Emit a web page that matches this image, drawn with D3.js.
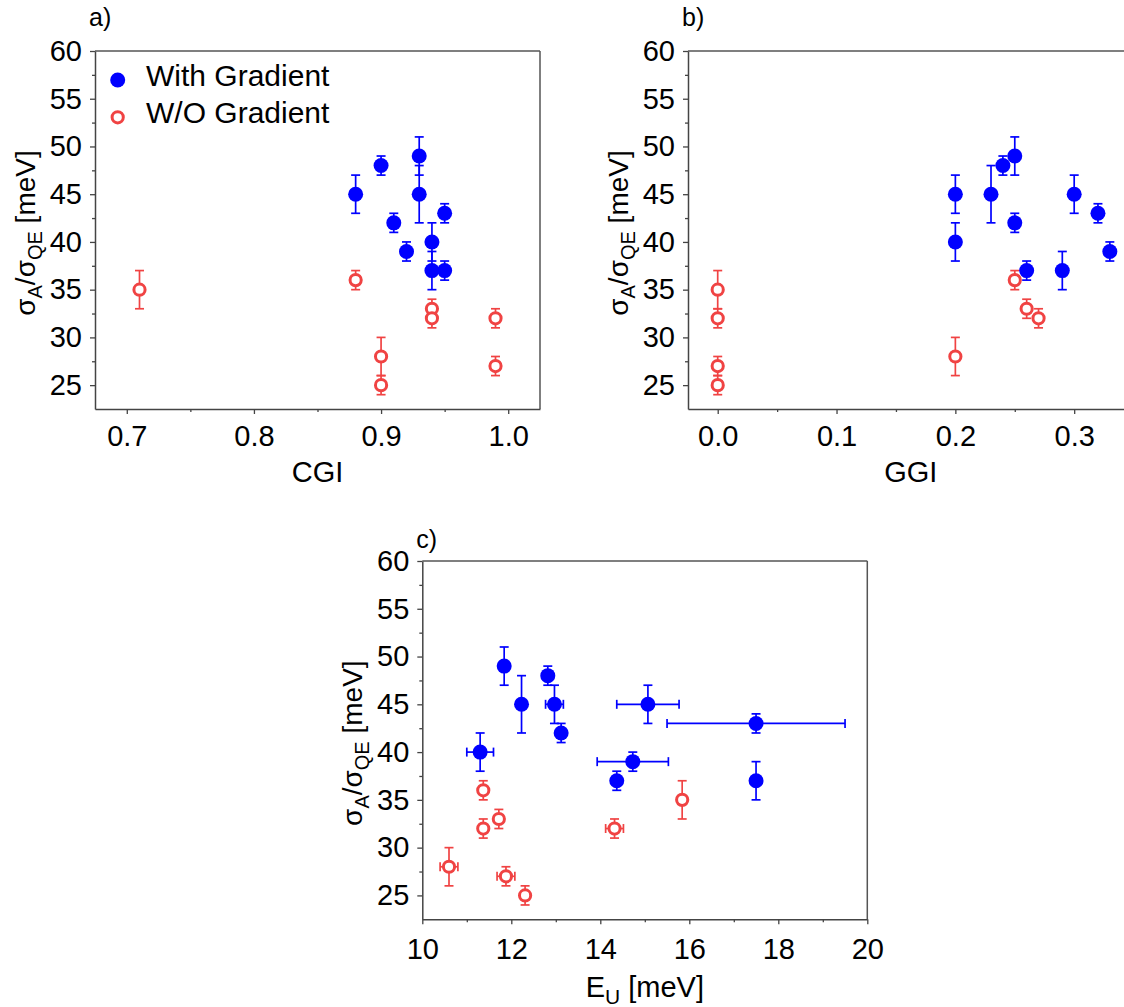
<!DOCTYPE html>
<html><head><meta charset="utf-8">
<script src="https://cdn.jsdelivr.net/npm/d3@7"></script>
<style>
body{margin:0;background:#fff}
svg{display:block}
text{font-family:"Liberation Sans",Arial,Helvetica,sans-serif;fill:#000}
</style>
</head><body>
<svg id="chart" width="1124" height="1007"></svg>
<script>
// ---------- data ----------
const yTickValues = [25, 30, 35, 40, 45, 50, 55, 60];
const yMinorValues = [27.5, 32.5, 37.5, 42.5, 47.5, 52.5, 57.5];
const seriesNames = ["With Gradient", "W/O Gradient"];

// Panel a) CGI
const cgiTicks = [0.7, 0.8, 0.9, 1.0];
const cgiMinor = [0.75, 0.85, 0.95];
const cgiWithX = [0.88, 0.90, 0.93, 0.93, 0.91, 0.92, 0.94, 0.94, 0.95, 0.95];
const cgiWithY = [45, 48, 49, 45, 42, 39, 40, 37, 43, 37];
const cgiWithYErr = [2, 1, 2, 3, 1, 1, 2, 2, 1, 1];
const cgiWoX = [0.71, 0.88, 0.90, 0.90, 0.94, 0.94, 0.99, 0.99];
const cgiWoY = [35, 36, 28, 25, 33, 32, 32, 27];
const cgiWoYErr = [2, 1, 2, 1, 1, 1, 1, 1];

// Panel b) GGI
const ggiTicks = [0.0, 0.1, 0.2, 0.3];
const ggiMinor = [0.05, 0.15, 0.25];
const ggiWithX = [0.20, 0.20, 0.23, 0.24, 0.25, 0.25, 0.26, 0.29, 0.30, 0.32, 0.33];
const ggiWithY = [45, 40, 45, 48, 49, 42, 37, 37, 45, 43, 39];
const ggiWithYErr = [2, 2, 3, 1, 2, 1, 1, 2, 2, 1, 1];
const ggiWoX = [0.0, 0.0, 0.0, 0.0, 0.20, 0.25, 0.26, 0.27];
const ggiWoY = [35, 32, 27, 25, 28, 36, 33, 32];
const ggiWoYErr = [2, 1, 1, 1, 2, 1, 1, 1];

// Panel c) Urbach energy
const euTicks = [10, 12, 14, 16, 18, 20];
const euMinor = [11, 13, 15, 17, 19];
const euWithX = [11.30, 11.84, 12.23, 12.82, 12.97, 13.12, 15.07, 17.50, 14.73, 14.37, 17.50];
const euWithXErr = [0.3, 0, 0, 0, 0.2, 0, 0.7, 2.0, 0.8, 0, 0];
const euWithY = [40, 49, 45, 48, 45, 42, 45, 43, 39, 37, 37];
const euWithYErr = [2, 2, 3, 1, 2, 1, 2, 1, 1, 1, 2];
const euWoX = [11.37, 11.37, 11.72, 10.60, 11.88, 12.31, 14.32, 15.84];
const euWoXErr = [0, 0, 0, 0.2, 0.2, 0, 0.2, 0];
const euWoY = [36, 32, 33, 28, 27, 25, 32, 35];
const euWoYErr = [1, 1, 1, 2, 1, 1, 1, 2];

// ---------- drawing ----------
const BLUE = "#0000ff", RED = "#f04343", AXIS = "#444";
const svg = d3.select("#chart");

function zip(xs, ys, yerr, xerr) {
  return xs.map((x, i) => ({x, y: ys[i], ye: yerr[i], xe: xerr ? xerr[i] : 0}));
}

function panel(cfg) {
  const g = svg.append("g");
  const x = d3.scaleLinear().domain(cfg.xDomain).range([cfg.left, cfg.right]);
  const y = d3.scaleLinear().domain([22.5, 60]).range([cfg.bottom, cfg.top]);

  // frame (top & right)
  g.append("line").attr("x1", cfg.left).attr("x2", cfg.right).attr("y1", cfg.top).attr("y2", cfg.top)
    .attr("stroke", "#555").attr("stroke-width", 1.5);
  g.append("line").attr("x1", cfg.right).attr("x2", cfg.right).attr("y1", cfg.top).attr("y2", cfg.bottom)
    .attr("stroke", "#555").attr("stroke-width", 1.5);

  // x axis
  g.append("g").attr("transform", `translate(0,${cfg.bottom})`)
    .call(d3.axisBottom(x).tickValues(cfg.xTicks).tickSize(5).tickSizeOuter(0).tickPadding(cfg.xPad).tickFormat(cfg.xFmt));
  g.append("g").attr("transform", `translate(0,${cfg.bottom})`)
    .call(d3.axisBottom(x).tickValues(cfg.xMinor).tickSize(3).tickSizeOuter(0).tickFormat(""))
    .select(".domain").remove();
  // y axis
  g.append("g").attr("transform", `translate(${cfg.left},0)`)
    .call(d3.axisLeft(y).tickValues(yTickValues).tickSize(5).tickSizeOuter(0).tickPadding(8).tickFormat(d3.format("d")));
  g.append("g").attr("transform", `translate(${cfg.left},0)`)
    .call(d3.axisLeft(y).tickValues(yMinorValues).tickSize(3).tickSizeOuter(0).tickFormat(""))
    .select(".domain").remove();
  g.selectAll(".domain").attr("stroke", AXIS).attr("stroke-width", 1.5);
  g.selectAll(".tick line").attr("stroke", AXIS).attr("stroke-width", 1.3);
  g.selectAll(".tick text").attr("font-size", 29).attr("fill", "#000")
    .attr("font-family", '"Liberation Sans",Arial,sans-serif');

  // y title
  const yt = g.append("text")
    .attr("transform", `translate(${cfg.left - 60},${(cfg.top + cfg.bottom) / 2 + 3}) rotate(-90)`)
    .attr("text-anchor", "middle").attr("font-size", 28);
  yt.append("tspan").text("σ");
  yt.append("tspan").text("A").attr("font-size", 20).attr("dy", 7);
  yt.append("tspan").text("/σ").attr("dy", -7);
  yt.append("tspan").text("QE").attr("font-size", 20).attr("dy", 7);
  yt.append("tspan").text(" [meV]").attr("dy", -7);

  // x title
  const xt = g.append("text").attr("x", (cfg.left + cfg.right) / 2)
    .attr("y", cfg.bottom + cfg.titleOff).attr("text-anchor", "middle").attr("font-size", 29);
  if (cfg.xSub) {
    xt.append("tspan").text(cfg.xTitle);
    xt.append("tspan").text(cfg.xSub).attr("font-size", 21).attr("dy", 7);
    xt.append("tspan").text(cfg.xRest).attr("dy", -7);
  } else xt.text(cfg.xTitle);

  // panel letter
  g.append("text").attr("x", cfg.left - 6).attr("y", cfg.letterY).attr("font-size", 25).text(cfg.letter);

  // markers
  const drawSeries = (data, color, open) => {
    const eb = g.append("g").attr("stroke", color).attr("stroke-width", 1.7).attr("fill", "none");
    data.forEach(d => {
      if (d.ye) {
        eb.append("line").attr("x1", x(d.x)).attr("x2", x(d.x)).attr("y1", y(d.y - d.ye)).attr("y2", y(d.y + d.ye));
        [d.y - d.ye, d.y + d.ye].forEach(v =>
          eb.append("line").attr("x1", x(d.x) - 4.5).attr("x2", x(d.x) + 4.5).attr("y1", y(v)).attr("y2", y(v)));
      }
      if (d.xe) {
        eb.append("line").attr("y1", y(d.y)).attr("y2", y(d.y)).attr("x1", x(d.x - d.xe)).attr("x2", x(d.x + d.xe));
        [d.x - d.xe, d.x + d.xe].forEach(v =>
          eb.append("line").attr("y1", y(d.y) - 4.5).attr("y2", y(d.y) + 4.5).attr("x1", x(v)).attr("x2", x(v)));
      }
    });
    g.append("g").selectAll("circle").data(data).join("circle")
      .attr("cx", d => x(d.x)).attr("cy", d => y(d.y))
      .attr("r", open ? 5.6 : 7.5)
      .attr("fill", open ? "#fff" : color)
      .attr("stroke", open ? color : "none")
      .attr("stroke-width", open ? 3 : 0);
  };
  drawSeries(cfg.wo, RED, true);
  drawSeries(cfg.with, BLUE, false);
  return g;
}

const fmt1 = d3.format(".1f");

panel({
  left: 95, right: 540, top: 51, bottom: 409, xDomain: [0.675, 1.025],
  xTicks: cgiTicks, xMinor: cgiMinor, xFmt: fmt1, xPad: 11, xTitle: "CGI", titleOff: 73,
  letter: "a)", letterY: 26,
  with: zip(cgiWithX, cgiWithY, cgiWithYErr), wo: zip(cgiWoX, cgiWoY, cgiWoYErr)
});
panel({
  left: 688, right: 1133.6, top: 51, bottom: 409, xDomain: [-0.025, 0.35],
  xTicks: ggiTicks, xMinor: ggiMinor, xFmt: fmt1, xPad: 11, xTitle: "GGI", titleOff: 73,
  letter: "b)", letterY: 26,
  with: zip(ggiWithX, ggiWithY, ggiWithYErr), wo: zip(ggiWoX, ggiWoY, ggiWoYErr)
});
panel({
  left: 422.3, right: 867.3, top: 561, bottom: 919.3, xDomain: [10, 20],
  xTicks: euTicks, xMinor: euMinor, xFmt: d3.format("d"), xPad: 14, xTitle: "E", xSub: "U", xRest: " [meV]", titleOff: 78,
  letter: "c)", letterY: 548,
  with: zip(euWithX, euWithY, euWithYErr, euWithXErr), wo: zip(euWoX, euWoY, euWoYErr, euWoXErr)
});

// legend (panel a)
const legend = svg.append("g");
seriesNames.forEach((name, i) => {
  const cy = 80 + i * 37.3;
  legend.append("circle").attr("cx", 117.7).attr("cy", cy)
    .attr("r", i === 0 ? 7.5 : 5.6)
    .attr("fill", i === 0 ? BLUE : "#fff")
    .attr("stroke", i === 0 ? "none" : RED).attr("stroke-width", 3);
  legend.append("text").attr("x", 146).attr("y", cy + 6).attr("font-size", 30).text(name);
});
</script>
</body></html>
